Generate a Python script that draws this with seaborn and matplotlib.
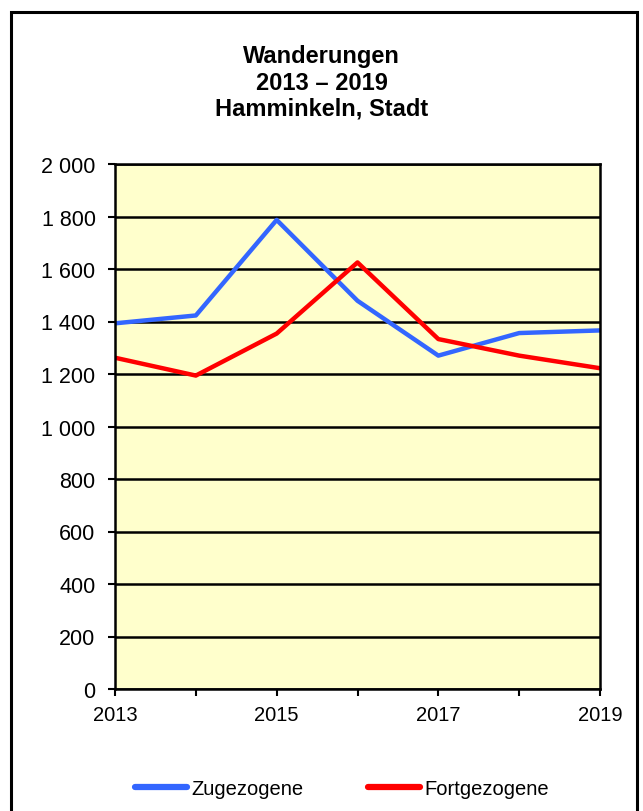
import matplotlib
matplotlib.use("Agg")
import matplotlib.pyplot as plt
import seaborn as sns
import pandas as pd
from matplotlib.lines import Line2D

years = [2013, 2014, 2015, 2016, 2017, 2018, 2019]
zugezogene = [1393, 1423, 1787, 1479, 1270, 1356, 1366]
fortgezogene = [1262, 1194, 1354, 1625, 1333, 1270, 1222]
series_names = ["Zugezogene", "Fortgezogene"]
ytick_values = [0, 200, 400, 600, 800, 1000, 1200, 1400, 1600, 1800, 2000]
ytick_labels = ["0", "200", "400", "600", "800", "1 000", "1 200", "1 400",
                "1 600", "1 800", "2 000"]
xtick_labels = ["2013", "2015", "2017", "2019"]
title = "Wanderungen\n2013 – 2019\nHamminkeln, Stadt"

df = pd.DataFrame({
    "Jahr": years * 2,
    "Wert": zugezogene + fortgezogene,
    "Serie": [series_names[0]] * len(years) + [series_names[1]] * len(years),
})

sns.set_theme(style="white")
plt.rcParams["font.family"] = ["Liberation Sans", "DejaVu Sans"]
plt.rcParams["text.color"] = "black"
plt.rcParams["xtick.color"] = "black"
plt.rcParams["ytick.color"] = "black"

W, H = 643, 812
fig = plt.figure(figsize=(W / 100, H / 100), dpi=100)
ax = fig.add_axes([115 / W, 1 - 690 / H, 485 / W, 525 / H])
ax.set_facecolor("#FFFFCC")

palette = {"Zugezogene": "#3366FF", "Fortgezogene": "#FF0000"}
sns.lineplot(data=df, x="Jahr", y="Wert", hue="Serie", palette=palette,
             linewidth=3.2, ax=ax, legend=False)

ax.set_xlim(2013, 2019)
ax.set_ylim(0, 2000)
ax.set_yticks(ytick_values)
ax.set_yticklabels(ytick_labels)
ax.set_xticks([int(x) for x in xtick_labels])
ax.set_xticklabels(xtick_labels)
ax.set_xticks(years, minor=True)
ax.set_xlabel("")
ax.set_ylabel("")
ax.grid(axis="y", color="black", linewidth=1.8, zorder=0)
ax.set_axisbelow(True)
for s in ax.spines.values():
    s.set_color("black")
    s.set_linewidth(1.8)
ax.tick_params(axis="y", which="major", direction="out", length=5, width=1.5,
               color="black", labelcolor="black", labelsize=15.5, pad=9, left=True)
ax.tick_params(axis="x", which="both", direction="out", length=5, width=1.5,
               color="black", labelcolor="black", labelsize=14.5, pad=6.5, bottom=True)

fig.text(0.5, 1 - 83 / H, title, ha="center", va="center", fontsize=17,
         fontweight="bold", linespacing=1.17, color="black")

handles = [Line2D([0], [0], color=palette[n], linewidth=4.5) for n in series_names]
fig.legend(handles, series_names, loc="center", bbox_to_anchor=(342 / W, 1 - 790 / H),
           ncol=2, frameon=False, fontsize=14.5, handlelength=2.6,
           handletextpad=0.2, columnspacing=3.2, labelcolor="black")

border = plt.Rectangle((11 / W, -0.05), 626 / W, 1.05 - 13 / H,
                       transform=fig.transFigure, fill=False,
                       edgecolor="black", linewidth=2.2)
fig.patches.append(border)

fig.savefig("out.png", dpi=100, facecolor="white")
